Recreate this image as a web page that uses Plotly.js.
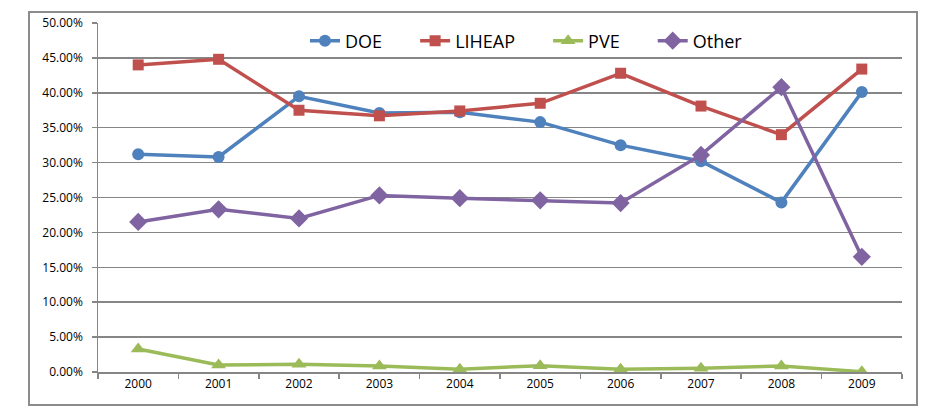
<!DOCTYPE html>
<html>
<head>
<meta charset="utf-8">
<script src="https://cdn.plot.ly/plotly-3.0.1.min.js"></script>
<style>html,body{margin:0;padding:0;background:#fff;}#chart{width:947px;height:415px;}</style>
</head>
<body>
<div id="chart"></div>
<script>
const years = ['2000','2001','2002','2003','2004','2005','2006','2007','2008','2009'];
const seriesNames = ['DOE', 'LIHEAP', 'PVE', 'Other'];
const doe    = [31.2, 30.8, 39.5, 37.1, 37.2, 35.8, 32.5, 30.2, 24.3, 40.1];
const liheap = [44.0, 44.8, 37.5, 36.7, 37.4, 38.5, 42.8, 38.1, 34.0, 43.4];
const pve    = [3.3, 1.0, 1.1, 0.85, 0.4, 0.9, 0.4, 0.55, 0.85, 0.05];
const other  = [21.5, 23.3, 22.0, 25.3, 24.9, 24.6, 24.2, 31.1, 40.8, 16.5];

const W = 947, H = 415;
const L = 98, R = 45, T = 23, B = 43;
const pw = W - L - R, ph = H - T - B;
function px(x){ return (x - L) / pw; }
function py(y){ return (H - B - y) / ph; }
const pad = '\u00a0\u00a0\u00a0\u00a0\u00a0\u00a0';

function tr(name, y, color, symbol, size){
  return {x: years, y: y, name: name + pad, type: 'scatter', mode: 'lines+markers',
    line: {color: color, width: 3.5}, marker: {color: color, symbol: symbol, size: size}};
}
const data = [
  tr(seriesNames[0], doe, '#4F81BD', 'circle', 12),
  tr(seriesNames[1], liheap, '#C0504D', 'square', 11),
  tr(seriesNames[2], pve, '#9BBB59', 'triangle-up', 13),
  tr(seriesNames[3], other, '#8064A2', 'diamond', 14)
];
const layout = {
  width: W, height: H,
  margin: {l: L, r: R, t: T, b: B},
  paper_bgcolor: '#fff', plot_bgcolor: '#fff',
  font: {family: 'Open Sans, sans-serif', color: '#000'},
  showlegend: true,
  legend: {orientation: 'h', x: px(305), y: py(41), xanchor: 'left', yanchor: 'middle',
    font: {size: 18, color: '#000'}, bgcolor: 'rgba(255,255,255,0)', itemwidth: 30},
  xaxis: {type: 'category', showgrid: false, zeroline: false, showline: true, linecolor: '#868686', linewidth: 1.5,
    ticks: 'outside', ticklen: 5, tickcolor: '#868686', tickwidth: 1.5, tickson: 'boundaries',
    tickfont: {size: 12}, range: [-0.5, 9.5]},
  yaxis: {range: [0, 50], dtick: 5, tickformat: '.2f', ticksuffix: '%\u00a0\u00a0', showgrid: true, gridcolor: '#868686', gridwidth: 1.5,
    zeroline: false, showline: true, linecolor: '#868686', linewidth: 1.5, ticks: 'outside', ticklen: 5,
    tickcolor: '#868686', tickwidth: 1.5, tickfont: {size: 12}},
  shapes: [{type: 'rect', xref: 'paper', yref: 'paper', x0: px(29), x1: px(917), y0: py(405), y1: py(12),
    line: {color: '#8c8c8c', width: 2}, fillcolor: 'rgba(0,0,0,0)', layer: 'below'}]
};
Plotly.newPlot('chart', data, layout, {displayModeBar: false, staticPlot: true});
</script>
</body>
</html>
